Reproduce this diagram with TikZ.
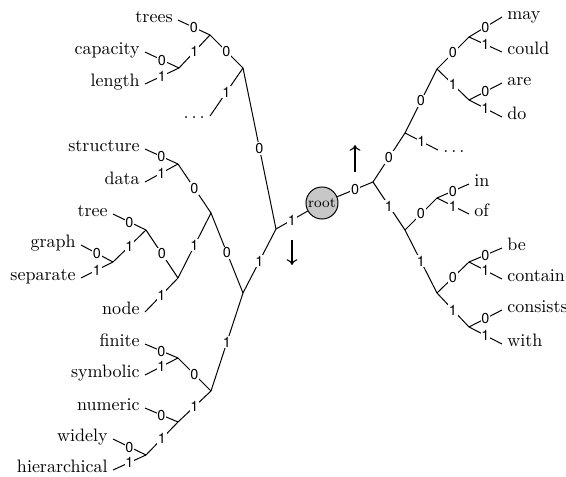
\documentclass[tikz,border=0pt]{standalone}
\usepackage{fontspec}
\newfontfamily\bitfont{TeX Gyre Heros}
\usetikzlibrary{arrows.meta}

\begin{document}
\begin{tikzpicture}[x=0.5556pt,y=-0.5556pt,
  edge/.style={draw, line width=0.55pt},
  bit/.style={fill=white, inner sep=0.5pt, font=\bitfont\footnotesize},
  leafl/.style={anchor=base east, inner xsep=2.8pt, inner ysep=0pt,
                text height=4.5pt, text depth=1.2pt},
  leafr/.style={anchor=base west, inner xsep=2.8pt, inner ysep=0pt,
                text height=4.5pt, text depth=1.2pt},
  rootnode/.style={circle, draw, line width=0.55pt, fill=black!22,
                   minimum size=17.8pt, inner sep=0pt, font=\footnotesize},
  dirarrow/.style={-{To[length=3.2pt,width=6pt]}, line width=0.6pt}]

\useasboundingbox (0,0) rectangle (566,477);

% root of the code tree
\node[rootnode] (root) at (322,203) {root};

% branching points, left half
\coordinate (Jc)  at (276,229);
\coordinate (Jb)  at (243,68);
\coordinate (Ja)  at (210,35);
\coordinate (Jcl) at (179,68);
\coordinate (Jd)  at (243,293);
\coordinate (Je)  at (211,213);
\coordinate (Jg)  at (178,164);
\coordinate (Jh)  at (178,278);
\coordinate (Ji)  at (146,230);
\coordinate (Jj)  at (113,262);
\coordinate (Jf)  at (211,391);
\coordinate (Jk)  at (178,358);
\coordinate (Jl)  at (178,422);
\coordinate (Jm)  at (146,455);

% branching points, right half
\coordinate (Ra) at (373,182);
\coordinate (Rb) at (405,133);
\coordinate (Rd) at (437,69);
\coordinate (Re) at (469,37);
\coordinate (Rf) at (469,100);
\coordinate (Rc) at (405,230);
\coordinate (Rg) at (437,198);
\coordinate (Rh) at (437,293);
\coordinate (Ri) at (469,262);
\coordinate (Rj) at (469,327);

% words, left half
\node[leafl] (wtrees)     at (178,23)  {trees};
\node[leafl] (wcapacity)  at (145,55)  {capacity};
\node[leafl] (wlength)    at (145,87)  {length};
\node[leafl] (wldots)     at (210,119) {$\ldots$};
\node[leafl] (wstructure) at (145,152) {structure};
\node[leafl] (wdata)      at (145,185) {data};
\node[leafl] (wtree)      at (113,217) {tree};
\node[leafl] (wgraph)     at (81,248)  {graph};
\node[leafl] (wseparate)  at (81,281)  {separate};
\node[leafl] (wnode)      at (145,315) {node};
\node[leafl] (wfinite)    at (145,347) {finite};
\node[leafl] (wsymbolic)  at (145,378) {symbolic};
\node[leafl] (wnumeric)   at (145,411) {numeric};
\node[leafl] (wwidely)    at (113,442) {widely};
\node[leafl] (whier)      at (113,473) {hierarchical};

% words, right half
\node[leafr] (wmay)      at (502,20)  {may};
\node[leafr] (wcould)    at (502,55)  {could};
\node[leafr] (ware)      at (502,86)  {are};
\node[leafr] (wdo)       at (502,120) {do};
\node[leafr] (wrdots)    at (438,153) {$\ldots$};
\node[leafr] (win)       at (469,187) {in};
\node[leafr] (wof)       at (469,217) {of};
\node[leafr] (wbe)       at (502,251) {be};
\node[leafr] (wcontain)  at (502,282) {contain};
\node[leafr] (wconsists) at (502,313) {consists};
\node[leafr] (wwith)     at (502,347) {with};

% edges with their bits
\draw[edge] (root) -- node[bit]{0} (Ra);
\draw[edge] (root) -- node[bit]{1} (Jc);

\draw[edge] (Jc) -- node[bit]{0} (Jb);
\draw[edge] (Jc) -- node[bit]{1} (Jd);
\draw[edge] (Jb) -- node[bit]{0} (Ja);
\draw[edge] (Jb) -- node[bit]{1} (wldots.east);
\draw[edge] (Ja) -- node[bit]{0} (wtrees.east);
\draw[edge] (Ja) -- node[bit]{1} (Jcl);
\draw[edge] (Jcl) -- node[bit]{0} (wcapacity.east);
\draw[edge] (Jcl) -- node[bit]{1} (wlength.east);
\draw[edge] (Jd) -- node[bit]{0} (Je);
\draw[edge] (Jd) -- node[bit]{1} (Jf);
\draw[edge] (Je) -- node[bit]{0} (Jg);
\draw[edge] (Je) -- node[bit]{1} (Jh);
\draw[edge] (Jg) -- node[bit]{0} (wstructure.east);
\draw[edge] (Jg) -- node[bit]{1} (wdata.east);
\draw[edge] (Jh) -- node[bit]{0} (Ji);
\draw[edge] (Jh) -- node[bit]{1} (wnode.east);
\draw[edge] (Ji) -- node[bit]{0} (wtree.east);
\draw[edge] (Ji) -- node[bit]{1} (Jj);
\draw[edge] (Jj) -- node[bit]{0} (wgraph.east);
\draw[edge] (Jj) -- node[bit]{1} (wseparate.east);
\draw[edge] (Jf) -- node[bit]{0} (Jk);
\draw[edge] (Jf) -- node[bit]{1} (Jl);
\draw[edge] (Jk) -- node[bit]{0} (wfinite.east);
\draw[edge] (Jk) -- node[bit]{1} (wsymbolic.east);
\draw[edge] (Jl) -- node[bit]{0} (wnumeric.east);
\draw[edge] (Jl) -- node[bit]{1} (Jm);
\draw[edge] (Jm) -- node[bit]{0} (wwidely.east);
\draw[edge] (Jm) -- node[bit]{1} (whier.east);

\draw[edge] (Ra) -- node[bit]{0} (Rb);
\draw[edge] (Ra) -- node[bit]{1} (Rc);
\draw[edge] (Rb) -- node[bit]{0} (Rd);
\draw[edge] (Rb) -- node[bit]{1} (wrdots.west);
\draw[edge] (Rd) -- node[bit]{0} (Re);
\draw[edge] (Rd) -- node[bit]{1} (Rf);
\draw[edge] (Re) -- node[bit]{0} (wmay.west);
\draw[edge] (Re) -- node[bit]{1} (wcould.west);
\draw[edge] (Rf) -- node[bit]{0} (ware.west);
\draw[edge] (Rf) -- node[bit]{1} (wdo.west);
\draw[edge] (Rc) -- node[bit]{0} (Rg);
\draw[edge] (Rc) -- node[bit]{1} (Rh);
\draw[edge] (Rg) -- node[bit]{0} (win.west);
\draw[edge] (Rg) -- node[bit]{1} (wof.west);
\draw[edge] (Rh) -- node[bit]{0} (Ri);
\draw[edge] (Rh) -- node[bit]{1} (Rj);
\draw[edge] (Ri) -- node[bit]{0} (wbe.west);
\draw[edge] (Ri) -- node[bit]{1} (wcontain.west);
\draw[edge] (Rj) -- node[bit]{0} (wconsists.west);
\draw[edge] (Rj) -- node[bit]{1} (wwith.west);

% direction arrows beside the root
\coordinate (upfrom) at (355,172);
\coordinate (upto)   at (355,145);
\coordinate (dnfrom) at (292,240);
\coordinate (dnto)   at (292,265);
\draw[dirarrow] (upfrom) -- (upto);
\draw[dirarrow] (dnfrom) -- (dnto);
\end{tikzpicture}
\end{document}
